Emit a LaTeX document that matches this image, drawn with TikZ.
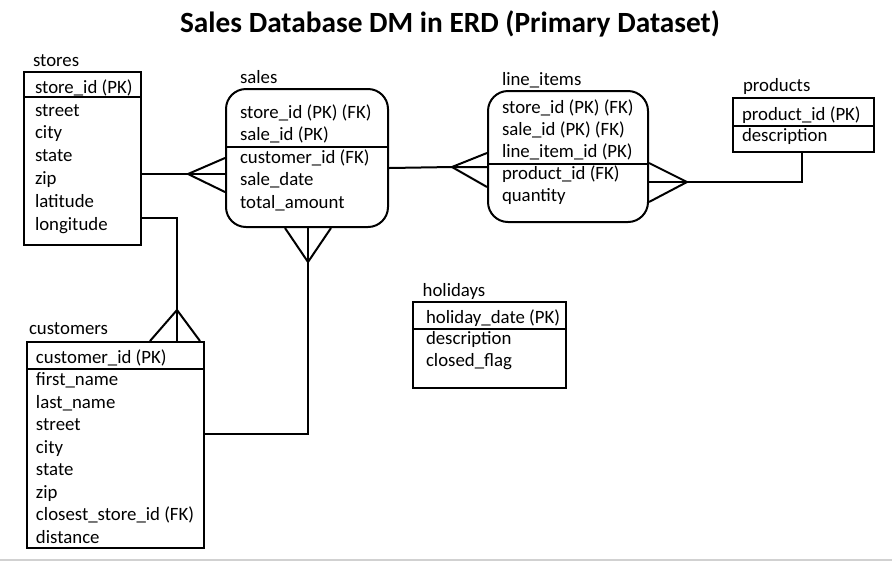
\documentclass[tikz,border=0pt]{standalone}
\usepackage{fontspec}
\setmainfont{Carlito}
\usetikzlibrary{fit}
\begin{document}
\begin{tikzpicture}[x=0.75pt,y=-0.75pt,line width=1.5pt,
  ent/.style={draw,inner sep=0pt,line width=1.5pt},
  rent/.style={ent,rounded corners=15pt},
  fld/.style={anchor=base west,inner sep=0pt,font=\fontsize{14.1}{16}\selectfont},
  conn/.style={line width=1.5pt},
  gridline/.style={draw=black!18,line width=1.5pt}]
\useasboundingbox (0,0) rectangle (892,562);
% title
\node[anchor=base,inner sep=0pt,font=\fontsize{22}{26}\selectfont\bfseries] (title) at (450,32.3) {Sales Database DM in ERD (Primary Dataset)};
% bottom gray line
\coordinate (gl) at (0,560);
\coordinate (gr) at (892,560);
\draw[gridline] (gl) -- (gr);

% stores
\node[ent,fit={(24,72)(141,245)}] (stores) {};
\draw (stores.west |- 0,97) -- (stores.east |- 0,97);
\node[fld] (storesL) at (32,66.7) {stores};
\foreach \t [count=\i] in {{store\_id (PK)},{street},{city},{state},{zip},{latitude},{longitude}}
  \node[fld] (stores\i) at (34,{93.3+22.8*(\i-1)}) {\t};

% sales
\node[rent,fit={(226,89)(388,227)}] (sales) {};
\draw (sales.west |- 0,147) -- (sales.east |- 0,147);
\node[fld] (salesL) at (239,83.3) {sales};
\foreach \t [count=\i] in {{store\_id (PK) (FK)},{sale\_id (PK)},{customer\_id (FK)},{sale\_date},{total\_amount}}
  \node[fld] (sales\i) at (239,{118+22.5*(\i-1)}) {\t};

% line_items
\node[rent,fit={(488,91)(648,222)}] (li) {};
\draw (li.west |- 0,164) -- (li.east |- 0,164);
\node[fld] (liL) at (501,85) {line\_items};
\foreach \t [count=\i] in {{store\_id (PK) (FK)},{sale\_id (PK) (FK)},{line\_item\_id (PK)},{product\_id (FK)},{quantity}}
  \node[fld] (li\i) at (501,{113+22.2*(\i-1)}) {\t};

% products
\node[ent,fit={(733,98)(874,152)}] (products) {};
\draw (products.west |- 0,126) -- (products.east |- 0,126);
\node[fld] (productsL) at (742,91.7) {products};
\node[fld] (products1) at (741,120) {product\_id (PK)};
\node[fld] (products2) at (741,141.7) {description};

% holidays
\node[ent,fit={(413,302)(566,388)}] (holidays) {};
\draw (holidays.west |- 0,329) -- (holidays.east |- 0,329);
\node[fld] (holidaysL) at (421.7,296.7) {holidays};
\foreach \t [count=\i] in {{holiday\_date (PK)},{description},{closed\_flag}}
  \node[fld] (holidays\i) at (425,{323+21.8*(\i-1)}) {\t};

% customers
\node[ent,fit={(27,342)(204,548)}] (customers) {};
\draw (customers.west |- 0,369) -- (customers.east |- 0,369);
\node[fld] (customersL) at (28,334) {customers};
\foreach \t [count=\i] in {{customer\_id (PK)},{first\_name},{last\_name},{street},{city},{state},{zip},{closest\_store\_id (FK)},{distance}}
  \node[fld] (customers\i) at (35,{363+22.55*(\i-1)}) {\t};

% connector: stores -- sales
\coordinate (a1) at (188,174);
\draw[conn] (stores.east |- a1) -- (a1) -- (sales.west |- a1);
\draw[conn] (sales.west |- 0,158) -- (a1) -- (sales.west |- 0,192);

% connector: stores -- customers
\coordinate (b0) at (177,218);
\coordinate (a2) at (177,310);
\draw[conn] (stores.east |- b0) -- (b0) -- (a2) -- (a2 |- customers.north);
\draw[conn] (150,0 |- customers.north) -- (a2) -- (200,0 |- customers.north);

% connector: sales -- customers
\coordinate (a3) at (308,262);
\coordinate (b3) at (308,434);
\draw[conn] (a3 |- sales.south) -- (a3) -- (b3) -- (customers.east |- b3);
\draw[conn] (285,0 |- sales.south) -- (a3) -- (331,0 |- sales.south);

% connector: sales -- line_items
\coordinate (a4) at (452,167);
\draw[conn] (sales.east |- 0,168) -- (a4) -- (li.west |- a4);
\draw[conn] (li.west |- 0,153) -- (a4) -- (li.west |- 0,187);

% connector: line_items -- products
\coordinate (a5) at (687,182);
\coordinate (b5) at (802,182);
\draw[conn] (li.east |- a5) -- (a5) -- (b5) -- (b5 |- products.south);
\draw[conn] (li.east |- 0,163) -- (a5) -- (li.east |- 0,202);
\end{tikzpicture}
\end{document}
